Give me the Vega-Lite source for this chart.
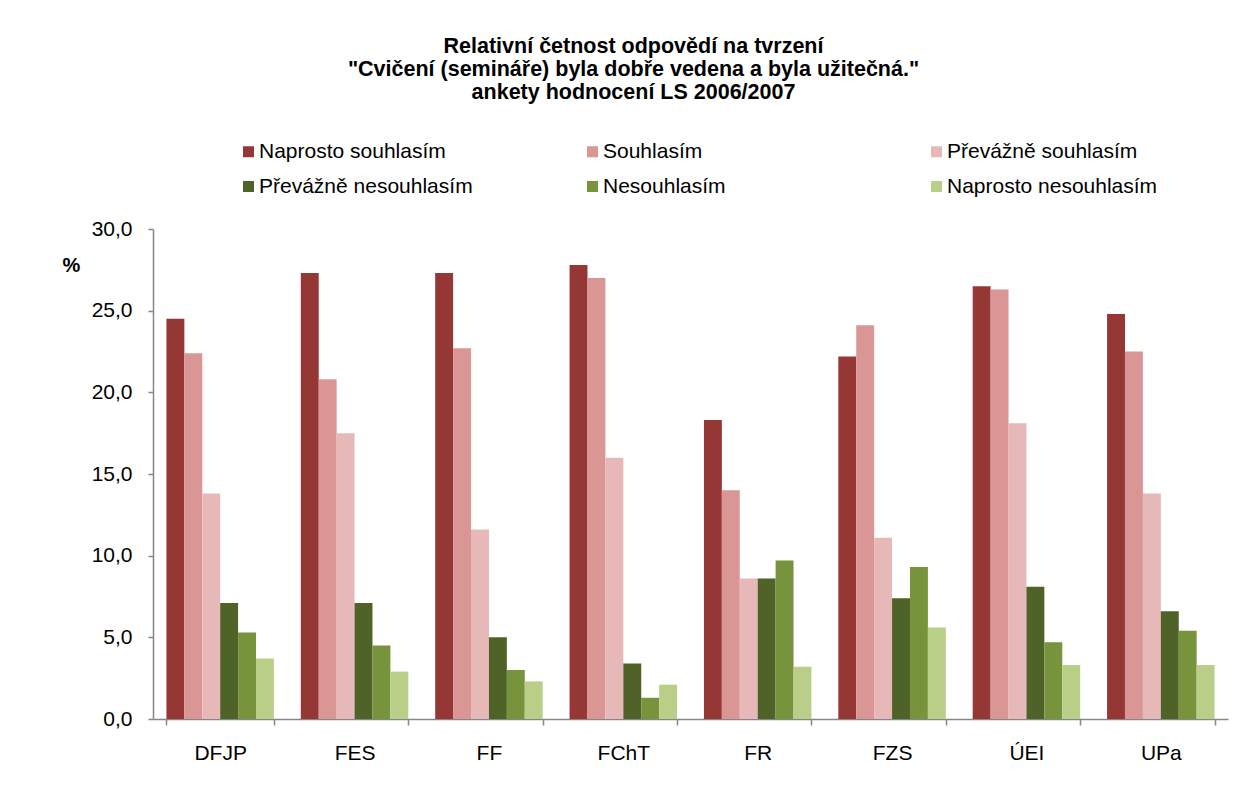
{
  "$schema": "https://vega.github.io/schema/vega-lite/v6.json",
  "width": 1075,
  "height": 490,
  "autosize": {"type": "none"},
  "padding": {"left": 153, "top": 229, "right": 17, "bottom": 66},
  "background": "white",
  "title": {
    "text": ["Relativní četnost odpovědí na tvrzení", "\"Cvičení (semináře) byla dobře vedena a byla užitečná.\"", "ankety hodnocení LS 2006/2007"],
    "font": "Liberation Sans",
    "fontSize": 21.5,
    "fontWeight": "bold",
    "color": "black",
    "lineHeight": 23,
    "anchor": "middle",
    "frame": "group",
    "dx": -57,
    "dy": -34
  },
  "data": {
    "values": [
      {"fakulta": "DFJP", "odpoved": "Naprosto souhlasím", "hodnota": 24.5},
      {"fakulta": "DFJP", "odpoved": "Souhlasím", "hodnota": 22.4},
      {"fakulta": "DFJP", "odpoved": "Převážně souhlasím", "hodnota": 13.8},
      {"fakulta": "DFJP", "odpoved": "Převážně nesouhlasím", "hodnota": 7.1},
      {"fakulta": "DFJP", "odpoved": "Nesouhlasím", "hodnota": 5.3},
      {"fakulta": "DFJP", "odpoved": "Naprosto nesouhlasím", "hodnota": 3.7},
      {"fakulta": "FES", "odpoved": "Naprosto souhlasím", "hodnota": 27.3},
      {"fakulta": "FES", "odpoved": "Souhlasím", "hodnota": 20.8},
      {"fakulta": "FES", "odpoved": "Převážně souhlasím", "hodnota": 17.5},
      {"fakulta": "FES", "odpoved": "Převážně nesouhlasím", "hodnota": 7.1},
      {"fakulta": "FES", "odpoved": "Nesouhlasím", "hodnota": 4.5},
      {"fakulta": "FES", "odpoved": "Naprosto nesouhlasím", "hodnota": 2.9},
      {"fakulta": "FF", "odpoved": "Naprosto souhlasím", "hodnota": 27.3},
      {"fakulta": "FF", "odpoved": "Souhlasím", "hodnota": 22.7},
      {"fakulta": "FF", "odpoved": "Převážně souhlasím", "hodnota": 11.6},
      {"fakulta": "FF", "odpoved": "Převážně nesouhlasím", "hodnota": 5.0},
      {"fakulta": "FF", "odpoved": "Nesouhlasím", "hodnota": 3.0},
      {"fakulta": "FF", "odpoved": "Naprosto nesouhlasím", "hodnota": 2.3},
      {"fakulta": "FChT", "odpoved": "Naprosto souhlasím", "hodnota": 27.8},
      {"fakulta": "FChT", "odpoved": "Souhlasím", "hodnota": 27.0},
      {"fakulta": "FChT", "odpoved": "Převážně souhlasím", "hodnota": 16.0},
      {"fakulta": "FChT", "odpoved": "Převážně nesouhlasím", "hodnota": 3.4},
      {"fakulta": "FChT", "odpoved": "Nesouhlasím", "hodnota": 1.3},
      {"fakulta": "FChT", "odpoved": "Naprosto nesouhlasím", "hodnota": 2.1},
      {"fakulta": "FR", "odpoved": "Naprosto souhlasím", "hodnota": 18.3},
      {"fakulta": "FR", "odpoved": "Souhlasím", "hodnota": 14.0},
      {"fakulta": "FR", "odpoved": "Převážně souhlasím", "hodnota": 8.6},
      {"fakulta": "FR", "odpoved": "Převážně nesouhlasím", "hodnota": 8.6},
      {"fakulta": "FR", "odpoved": "Nesouhlasím", "hodnota": 9.7},
      {"fakulta": "FR", "odpoved": "Naprosto nesouhlasím", "hodnota": 3.2},
      {"fakulta": "FZS", "odpoved": "Naprosto souhlasím", "hodnota": 22.2},
      {"fakulta": "FZS", "odpoved": "Souhlasím", "hodnota": 24.1},
      {"fakulta": "FZS", "odpoved": "Převážně souhlasím", "hodnota": 11.1},
      {"fakulta": "FZS", "odpoved": "Převážně nesouhlasím", "hodnota": 7.4},
      {"fakulta": "FZS", "odpoved": "Nesouhlasím", "hodnota": 9.3},
      {"fakulta": "FZS", "odpoved": "Naprosto nesouhlasím", "hodnota": 5.6},
      {"fakulta": "ÚEI", "odpoved": "Naprosto souhlasím", "hodnota": 26.5},
      {"fakulta": "ÚEI", "odpoved": "Souhlasím", "hodnota": 26.3},
      {"fakulta": "ÚEI", "odpoved": "Převážně souhlasím", "hodnota": 18.1},
      {"fakulta": "ÚEI", "odpoved": "Převážně nesouhlasím", "hodnota": 8.1},
      {"fakulta": "ÚEI", "odpoved": "Nesouhlasím", "hodnota": 4.7},
      {"fakulta": "ÚEI", "odpoved": "Naprosto nesouhlasím", "hodnota": 3.3},
      {"fakulta": "UPa", "odpoved": "Naprosto souhlasím", "hodnota": 24.8},
      {"fakulta": "UPa", "odpoved": "Souhlasím", "hodnota": 22.5},
      {"fakulta": "UPa", "odpoved": "Převážně souhlasím", "hodnota": 13.8},
      {"fakulta": "UPa", "odpoved": "Převážně nesouhlasím", "hodnota": 6.6},
      {"fakulta": "UPa", "odpoved": "Nesouhlasím", "hodnota": 5.4},
      {"fakulta": "UPa", "odpoved": "Naprosto nesouhlasím", "hodnota": 3.3}
    ]
  },
  "mark": {"type": "bar"},
  "encoding": {
    "x": {
      "field": "fakulta",
      "type": "nominal",
      "sort": ["DFJP", "FES", "FF", "FChT", "FR", "FZS", "ÚEI", "UPa"],
      "scale": {"paddingInner": 0.2, "paddingOuter": 0.1},
      "axis": {
        "title": null,
        "labelAngle": 0,
        "tickBand": "extent",
        "tickSize": 6,
        "labelPadding": 17,
        "labelFont": "Liberation Sans",
        "labelFontSize": 21,
        "labelColor": "black",
        "domainColor": "#868686",
        "domainWidth": 1.5,
        "tickColor": "#868686",
        "tickWidth": 1.5
      }
    },
    "xOffset": {
      "field": "odpoved",
      "type": "nominal",
      "sort": ["Naprosto souhlasím", "Souhlasím", "Převážně souhlasím", "Převážně nesouhlasím", "Nesouhlasím", "Naprosto nesouhlasím"]
    },
    "y": {
      "field": "hodnota",
      "type": "quantitative",
      "scale": {"domain": [0, 30]},
      "axis": {
        "title": "%",
        "titleAngle": 0,
        "titleX": -82,
        "titleY": 36,
        "titleAlign": "center",
        "titleBaseline": "middle",
        "titleFont": "Liberation Sans",
        "titleFontSize": 20,
        "titleFontWeight": "bold",
        "titleColor": "black",
        "values": [0, 5, 10, 15, 20, 25, 30],
        "format": ".1f",
        "grid": false,
        "tickSize": 5,
        "labelPadding": 16,
        "labelFont": "Liberation Sans",
        "labelFontSize": 21,
        "labelColor": "black",
        "domainColor": "#868686",
        "domainWidth": 1.5,
        "tickColor": "#868686",
        "tickWidth": 1.5
      }
    },
    "color": {
      "field": "odpoved",
      "type": "nominal",
      "scale": {
        "domain": ["Naprosto souhlasím", "Souhlasím", "Převážně souhlasím", "Převážně nesouhlasím", "Nesouhlasím", "Naprosto nesouhlasím"],
        "range": ["#953735", "#D99694", "#E6B9B8", "#4F6228", "#77933C", "#B9CF87"]
      },
      "legend": {
        "title": null,
        "orient": "none",
        "legendX": 85,
        "legendY": -88,
        "padding": 0,
        "direction": "horizontal",
        "columns": 3,
        "gridAlign": "all",
        "columnPadding": 109,
        "rowPadding": 13,
        "symbolType": "square",
        "symbolSize": 121,
        "symbolStrokeWidth": 0,
        "labelOffset": 0,
        "labelLimit": 400,
        "labelFont": "Liberation Sans",
        "labelFontSize": 21,
        "labelColor": "black"
      }
    }
  },
  "config": {
    "locale": {"number": {"decimal": ",", "thousands": " ", "grouping": [3], "currency": ["", " Kč"]}},
    "view": {"stroke": null}
  }
}
